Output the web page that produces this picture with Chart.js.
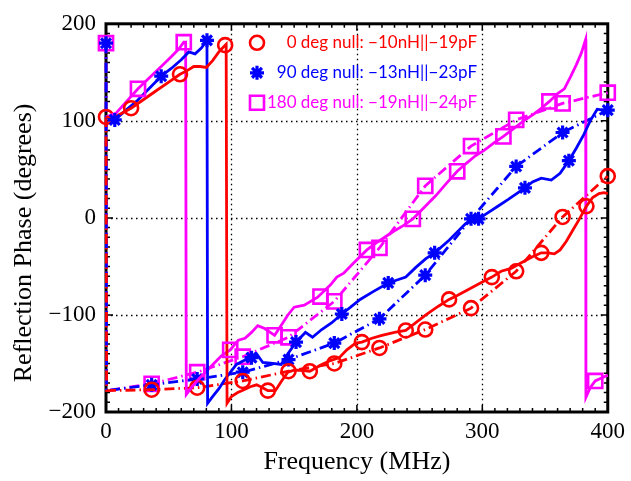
<!DOCTYPE html>
<html lang="en">
<head>
  <meta charset="UTF-8" />
  <title>Reflection Phase</title>
  <script src="https://cdn.jsdelivr.net/npm/chart.js"></script>
  <style>
    body { margin: 0; background: #fff; }
    .wrap { position: relative; width: 631px; height: 481px; }
  </style>
</head>
<body>
  <div class="wrap"><canvas id="phaseChart"></canvas></div>

  <script>
    // axis ticks
    const xTicks = [0, 100, 200, 300, 400];
    const yTicks = [-200, -100, 0, 100, 200];

    // 0 deg null (red) - measured (solid) and simulated (dash-dot)
    const redMeasX = [0, 5, 10, 20, 30, 40, 50, 59, 65, 70, 75, 80, 85, 90, 95, 95.8, 96.5, 100, 105, 110, 115, 120, 125, 129, 135, 140, 145, 150, 155, 162.5, 172, 179, 186, 192, 199, 204, 212, 220, 230, 239, 247, 255, 265, 273.5, 280, 290, 300, 307.6, 315, 323, 330, 340, 347, 352, 357.5, 362, 367, 372, 377, 383, 388, 393, 397, 400];
    const redMeasY = [104, 103, 106, 113, 122, 131, 140, 148, 152, 156, 156, 155, 162, 171, 178, 179, -191, -184, -180, -177, -174, -172, -175, -178, -178, -168, -159, -157, -157, -158, -151, -147, -144, -136, -129, -128, -124, -121, -118, -116, -108, -100, -91, -84, -80, -73, -66, -61, -55, -52, -47, -40, -36, -36, -37, -33, -24, -13, -2, 12, 21, 25, 26, 25];
    const redMarkX = [20, 59, 95, 129, 162.5, 204, 239, 273.5, 307.6, 347, 383];
    const redMarkY = [113, 148, 178, -178, -158, -128, -116, -84, -61, -36, 12];
    const redSimX = [0, 0.5, 36.4, 72.7, 109, 145.5, 182, 218, 254.5, 291, 327, 364, 400];
    const redSimY = [104, -178, -177, -175, -168, -158, -150, -134, -115, -93, -55, 1, 43];

    // 90 deg null (blue)
    const blueMeasX = [0, 7, 15, 25, 35, 44, 52, 60, 66, 71, 76, 80.5, 81, 84.5, 90, 95, 104, 110, 116, 120, 125, 133, 139.6, 145, 151.5, 159, 164.6, 172, 180, 188, 195, 202.6, 213, 225, 232, 239, 247, 255, 262, 273.5, 286.6, 297, 304, 313, 320.7, 334, 340, 347, 355, 362, 369, 375, 381, 386, 391.6, 396, 400];
    const blueMeasY = [104, 101, 110, 121, 134, 146, 154, 163, 171, 169, 175, 183, -191, -185, -176, -166, -151, -147, -144, -140, -149, -150, -151, -140, -128, -118, -123, -115, -108, -99, -92, -84, -76, -67, -64, -61, -51, -42, -36, -23, -6, -1, 5, 12.5, 19, 31, 37, 41, 39, 46, 59, 72, 86, 100, 112, 111, 112];
    const blueMarkX = [7, 44, 80.5, 116, 151.5, 188, 225, 262, 297, 334, 369];
    const blueMarkY = [101, 146, 183, -144, -128, -99, -67, -36, -1, 31, 59];
    const blueSimX = [0, 0.5, 36.4, 72.7, 109, 145.5, 182, 218, 254.5, 291, 327, 364, 400];
    const blueSimY = [180, -178, -172, -166, -159, -146, -129, -104, -59, -1, 53, 88, 111];

    // 180 deg null (magenta)
    const magMeasX = [0, 8, 15, 25.5, 35, 44, 52, 58, 62, 63.5, 64, 68, 74, 80, 86, 92, 99, 105.5, 110.8, 116, 121, 126.5, 134.4, 140, 145, 150, 158, 168.5, 179, 184, 189.5, 197, 208, 214, 221, 229, 237, 244.6, 253, 263, 271, 280, 287, 294.5, 302, 309, 316.8, 325, 333, 341, 347, 353.5, 360, 365.4, 370.6, 375, 379, 382.4, 382.6, 386, 390, 395, 400];
    const magMeasY = [104, 108, 118, 133, 145, 156, 166, 174, 181, 181, -182, -175, -166, -158, -150, -142, -136, -126, -124, -118, -111, -114, -121, -110, -100, -92, -90, -82, -69, -61, -57, -47, -33, -27, -21, -14, -8, -1, 10, 23, 35, 48, 56, 64, 70, 77, 84, 92, 100, 107, 113, 120, 128, 133, 146, 158, 170, 184, -185, -175, -168, -165, -162];
    const magMarkX = [25.5, 62, 99, 134.4, 171, 208, 244.6, 280, 316.8, 353.5, 390];
    const magMarkY = [133, 181, -136, -121, -81, -33, -1, 48, 84, 120, -168];
    const magSimX = [0, 0.5, 36.4, 72.7, 109, 145.5, 182, 218, 254.5, 291, 327, 364, 400];
    const magSimY = [180, -178, -171, -159, -143, -123, -86, -31, 33, 74, 101, 118, 129];

    const legendLabels = [
      "0 deg null: \u221210nH||\u221219pF",
      "90 deg null: \u221213nH||\u221223pF",
      "180 deg null: \u221219nH||\u221224pF"
    ];
    const colors = ["#ff0000", "#0000ff", "#ff00ff"];
    const markers = ["circle", "star", "rect"];
    const markerRadius = [7, 7, 10];
    const simDash = [10, 4, 1.5, 4];
    const lineW = 2.8;

    function toPoints(xs, ys) {
      return xs.map((x, i) => ({ x: x, y: ys[i] }));
    }

    function measLine(xs, ys, color) {
      return {
        data: toPoints(xs, ys), showLine: true, borderColor: color, borderWidth: lineW,
        pointRadius: 0, tension: 0, clip: false
      };
    }

    function measMarks(xs, ys, color, style, r) {
      return {
        data: toPoints(xs, ys), showLine: false, pointStyle: style, pointRadius: r,
        pointBorderColor: color, pointBackgroundColor: "rgba(0,0,0,0)",
        pointBorderWidth: style === "star" ? 3.2 : 2.6, clip: false
      };
    }

    function simLine(xs, ys, color, style, r) {
      return {
        data: toPoints(xs, ys), showLine: true, borderColor: color, borderWidth: lineW,
        borderDash: simDash, tension: 0, pointStyle: style,
        pointRadius: xs.map((_, i) => (i === 1 ? 0 : r)),
        pointBorderColor: color, pointBackgroundColor: "rgba(0,0,0,0)",
        pointBorderWidth: style === "star" ? 3.2 : 2.6, clip: false
      };
    }

    function minus(v) {
      return String(v).replace("-", "\u2212");
    }

    // dotted grid, box and inward ticks (MATLAB look)
    const framePlugin = {
      id: "frame",
      beforeDatasetsDraw(chart) {
        const { ctx, chartArea: a, scales } = chart;
        const xs = scales.x, ys = scales.y;
        ctx.save();
        ctx.strokeStyle = "#000";
        ctx.lineWidth = 1.3;
        ctx.setLineDash([1.5, 3.5]);
        xTicks.slice(1, -1).forEach(v => {
          const px = Math.round(xs.getPixelForValue(v)) + 0.5;
          ctx.beginPath(); ctx.moveTo(px, a.top); ctx.lineTo(px, a.bottom); ctx.stroke();
        });
        yTicks.slice(1, -1).forEach(v => {
          const py = Math.round(ys.getPixelForValue(v)) + 0.5;
          ctx.beginPath(); ctx.moveTo(a.left, py); ctx.lineTo(a.right, py); ctx.stroke();
        });
        ctx.setLineDash([]);
        ctx.lineWidth = 1.5;
        for (let v = xTicks[0]; v <= xTicks[xTicks.length - 1]; v += 10) {
          const px = xs.getPixelForValue(v);
          const len = v % 100 === 0 ? 7 : 4;
          ctx.beginPath();
          ctx.moveTo(px, a.bottom); ctx.lineTo(px, a.bottom - len);
          ctx.moveTo(px, a.top); ctx.lineTo(px, a.top + len);
          ctx.stroke();
        }
        for (let v = yTicks[0]; v <= yTicks[yTicks.length - 1]; v += 10) {
          const py = ys.getPixelForValue(v);
          const len = v % 100 === 0 ? 7 : 4;
          ctx.beginPath();
          ctx.moveTo(a.left, py); ctx.lineTo(a.left + len, py);
          ctx.moveTo(a.right, py); ctx.lineTo(a.right - len, py);
          ctx.stroke();
        }
        ctx.lineWidth = 3;
        ctx.strokeRect(a.left, a.top, a.right - a.left, a.bottom - a.top);
        ctx.restore();
      },
      afterDraw(chart) {
        const { ctx, chartArea: a } = chart;
        ctx.save();
        // y axis title
        ctx.translate(a.left - 82, (a.top + a.bottom) / 2 + 25);
        ctx.rotate(-Math.PI / 2);
        ctx.font = "26px 'Liberation Serif'";
        ctx.fillStyle = "#000";
        ctx.textAlign = "center";
        ctx.textBaseline = "middle";
        ctx.fillText("Reflection Phase (degrees)", 0, 0);
        ctx.restore();

        // legend inside the axes
        ctx.save();
        ctx.font = "17px Lato";
        ctx.textAlign = "right";
        ctx.textBaseline = "middle";
        legendLabels.forEach((text, i) => {
          const y = a.top + 19 + i * 30;
          const mx = a.left + 151;
          ctx.fillStyle = colors[i];
          ctx.fillText(text, a.left + 371, y);
          ctx.strokeStyle = colors[i];
          ctx.lineWidth = 2.6;
          ctx.beginPath();
          if (markers[i] === "circle") {
            ctx.arc(mx, y, 7, 0, Math.PI * 2);
          } else if (markers[i] === "star") {
            ctx.lineWidth = 3.2;
            for (let k = 0; k < 4; k++) {
              const ang = k * Math.PI / 4;
              ctx.moveTo(mx - 7 * Math.cos(ang), y - 7 * Math.sin(ang));
              ctx.lineTo(mx + 7 * Math.cos(ang), y + 7 * Math.sin(ang));
            }
          } else {
            ctx.rect(mx - 7, y - 7, 14, 14);
          }
          ctx.stroke();
        });
        ctx.restore();
      }
    };

    const tickFont = { family: "'Liberation Serif'", size: 23 };
    const titleFont = { family: "'Liberation Serif'", size: 26 };

    new Chart(document.getElementById("phaseChart"), {
      type: "scatter",
      data: {
        datasets: [
          measMarks(redMarkX, redMarkY, colors[0], markers[0], markerRadius[0]),
          measMarks(blueMarkX, blueMarkY, colors[1], markers[1], markerRadius[1]),
          measMarks(magMarkX, magMarkY, colors[2], markers[2], markerRadius[2]),
          measLine(redMeasX, redMeasY, colors[0]),
          measLine(blueMeasX, blueMeasY, colors[1]),
          measLine(magMeasX, magMeasY, colors[2]),
          simLine(redSimX, redSimY, colors[0], markers[0], markerRadius[0]),
          simLine(blueSimX, blueSimY, colors[1], markers[1], markerRadius[1]),
          simLine(magSimX, magSimY, colors[2], markers[2], markerRadius[2])
        ]
      },
      options: {
        responsive: true,
        maintainAspectRatio: false,
        animation: false,
        events: [],
        layout: { padding: { top: 13, right: 17, left: 0, bottom: 0 } },
        plugins: { legend: { display: false }, tooltip: { enabled: false } },
        scales: {
          x: {
            type: "linear",
            min: 0, max: 400,
            afterBuildTicks: s => { s.ticks = xTicks.map(v => ({ value: v })); },
            afterFit: s => { s.height = 69; },
            grid: { display: false, drawTicks: false },
            border: { display: false },
            ticks: { color: "#000", font: tickFont, padding: 6, maxRotation: 0, callback: v => minus(v) },
            title: {
              display: true, text: "Frequency (MHz)", color: "#000",
              font: titleFont, padding: { top: 0, bottom: 3 }
            }
          },
          y: {
            type: "linear",
            min: -200, max: 200,
            afterBuildTicks: s => { s.ticks = yTicks.map(v => ({ value: v })); },
            afterFit: s => { s.width = 106; },
            grid: { display: false, drawTicks: false },
            border: { display: false },
            ticks: { color: "#000", font: tickFont, padding: 10, callback: v => minus(v) }
          }
        }
      },
      plugins: [framePlugin]
    });
  </script>
</body>
</html>
